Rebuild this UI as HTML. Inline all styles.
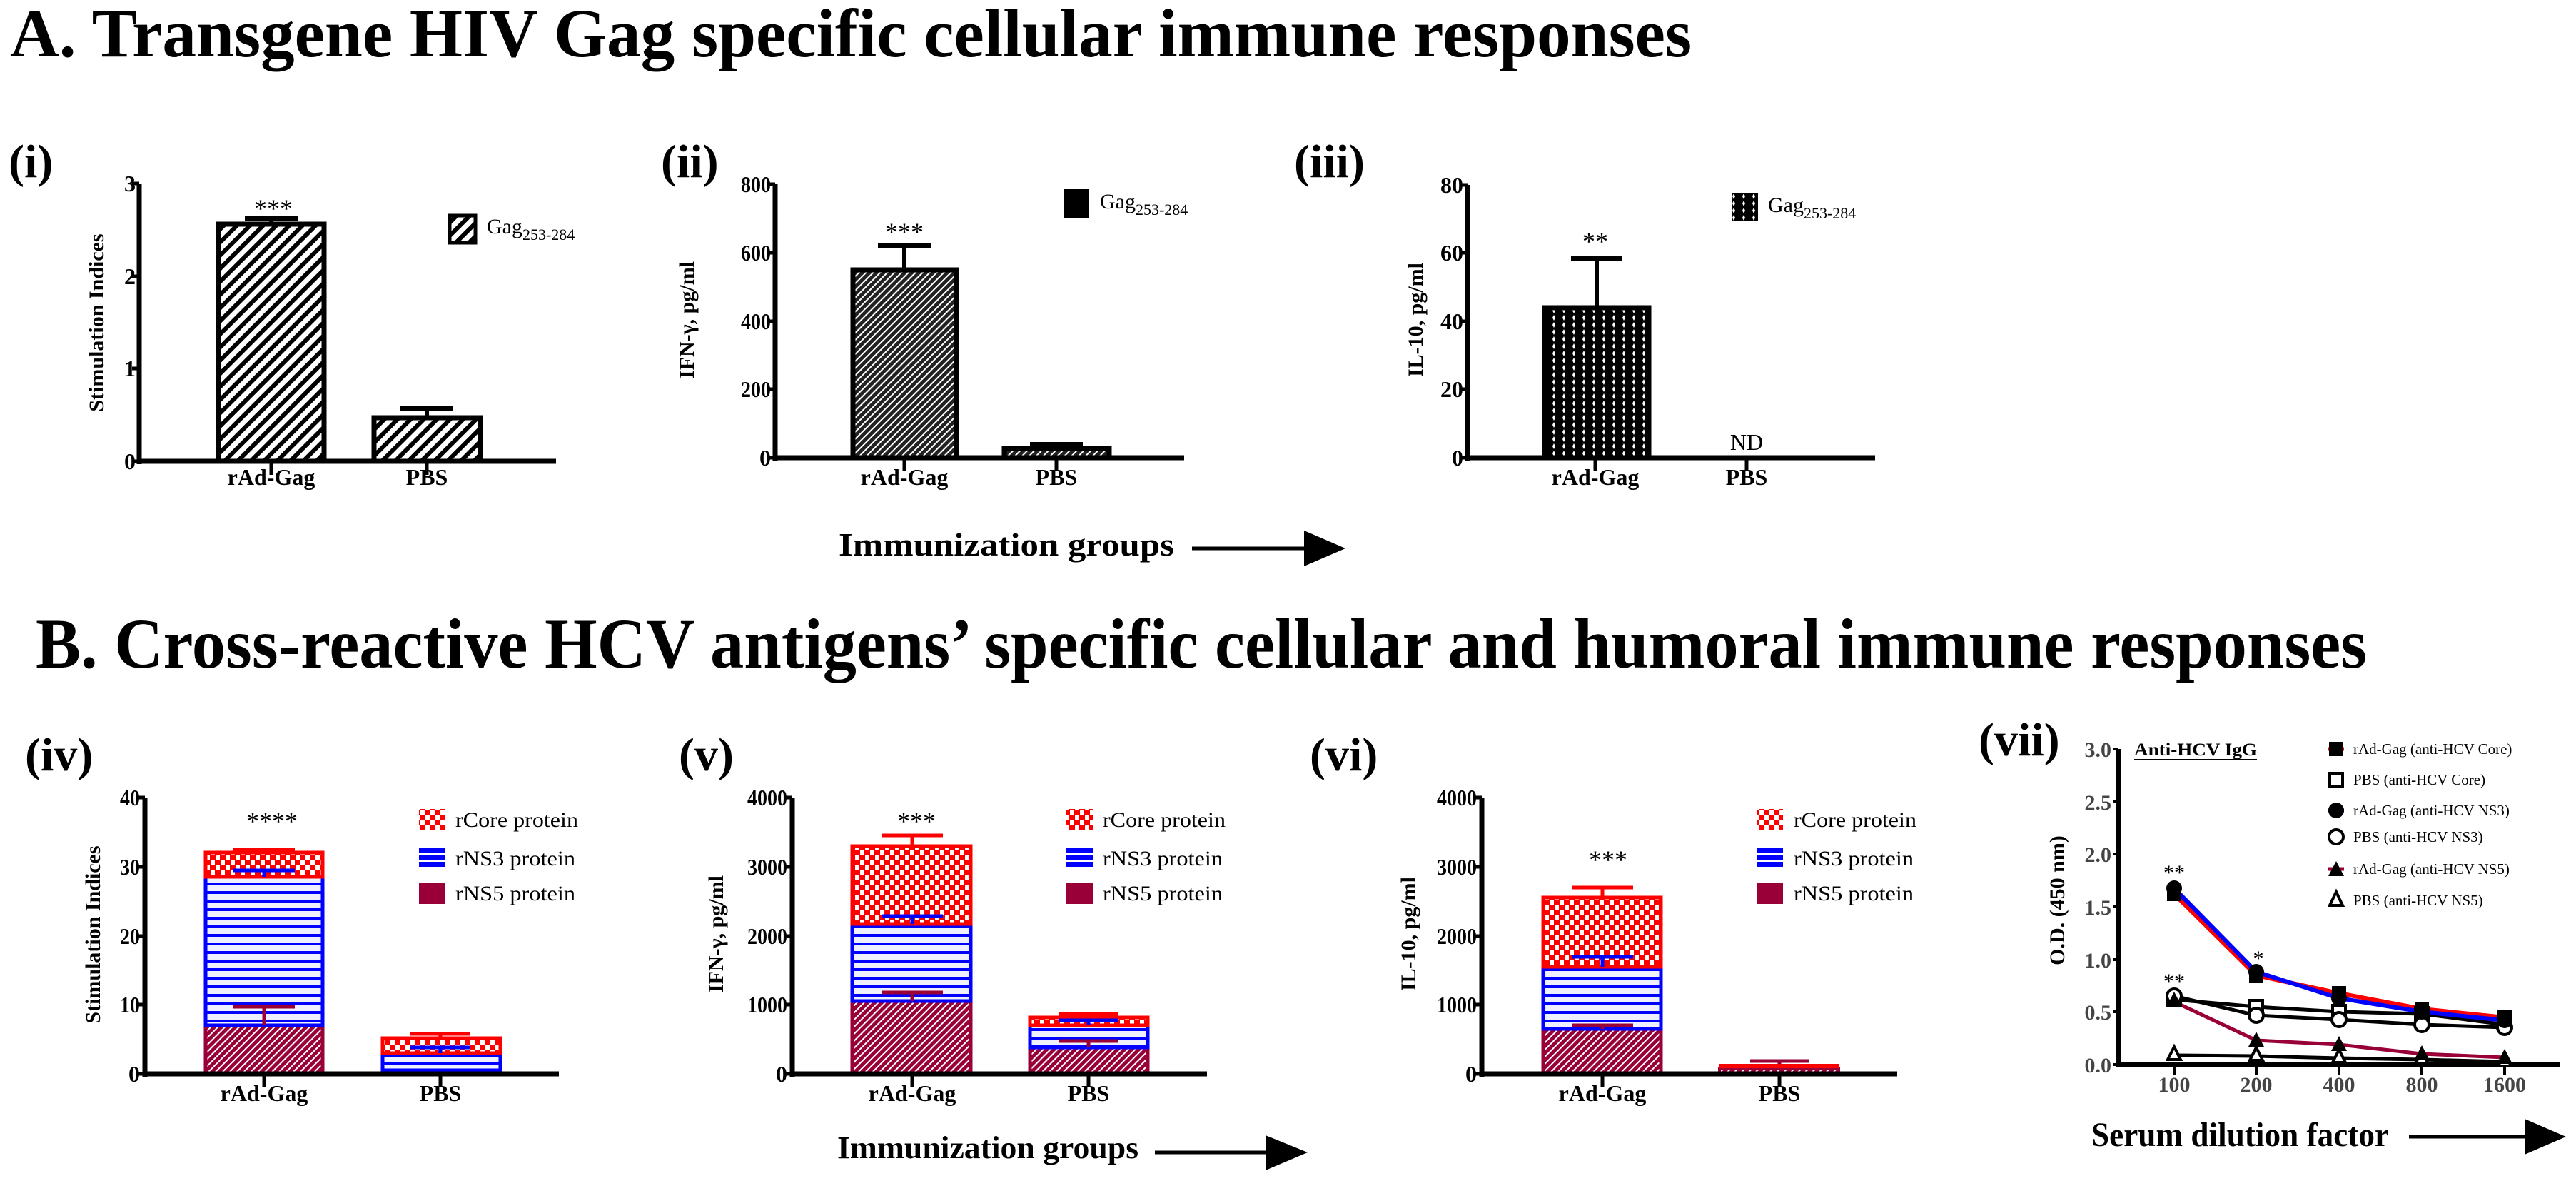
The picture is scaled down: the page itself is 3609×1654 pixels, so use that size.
<!DOCTYPE html>
<html><head><meta charset="utf-8"><style>
html,body{margin:0;padding:0;background:#fff}
svg{display:block}
text{font-family:"Liberation Serif",serif}
.b{font-weight:bold}
.tk{font-weight:bold;font-size:32px;text-anchor:end}
.xl{font-weight:bold;font-size:32px;text-anchor:middle}
.yl{font-weight:bold;font-size:30px;text-anchor:middle}
.pl{font-weight:bold;font-size:66px}
.lg{font-size:30px}
.st{font-size:36px;text-anchor:middle}
.gt{font-weight:bold;font-size:30px;fill:#444}
.l7{font-size:21px}
</style></head><body>
<svg width="3609" height="1654" viewBox="0 0 3609 1654" xmlns="http://www.w3.org/2000/svg">
<defs>
<pattern id="hw" patternUnits="userSpaceOnUse" width="13" height="13" patternTransform="rotate(45)"><rect width="13" height="13" fill="#fff"/><rect width="6" height="13" fill="#000"/></pattern>
<pattern id="hd" patternUnits="userSpaceOnUse" width="7" height="7" patternTransform="rotate(45)"><rect width="7" height="7" fill="#222"/><rect width="2" height="7" fill="#fff"/></pattern>
<pattern id="dt" patternUnits="userSpaceOnUse" width="14" height="10"><rect width="14" height="10" fill="#000"/><path d="M7 1 L9 5 L7 9 L5 5Z" fill="#fff"/></pattern>
<pattern id="co" patternUnits="userSpaceOnUse" width="14" height="14"><rect width="14" height="14" fill="#f00"/><rect x="1" y="1" width="6" height="6" fill="#fff"/><rect x="8" y="8" width="6" height="6" fill="#fff"/></pattern>
<pattern id="n3" patternUnits="userSpaceOnUse" width="12" height="12"><rect width="12" height="12" fill="#eef0ff"/><rect y="0" width="12" height="4" fill="#00f"/></pattern>
<pattern id="n3l" patternUnits="userSpaceOnUse" width="12" height="10"><rect width="12" height="10" fill="#00f"/><rect y="4" width="12" height="3" fill="#fff"/></pattern>
<pattern id="n5" patternUnits="userSpaceOnUse" width="7" height="7" patternTransform="rotate(45)"><rect width="7" height="7" fill="#990038"/><rect width="2" height="7" fill="#fff"/></pattern>
</defs>

<!-- Titles -->
<text x="14" y="79" class="b" font-size="96" textLength="2356" lengthAdjust="spacingAndGlyphs">A.  Transgene HIV Gag specific cellular immune responses</text>
<text x="50" y="935" class="b" font-size="100" textLength="3266" lengthAdjust="spacingAndGlyphs">B.  Cross-reactive HCV antigens’ specific cellular and humoral immune responses</text>

<!-- Panel labels -->
<text x="12" y="248" class="pl">(i)</text>
<text x="926" y="248" class="pl">(ii)</text>
<text x="1813" y="248" class="pl">(iii)</text>
<text x="35" y="1079" class="pl">(iv)</text>
<text x="951" y="1079" class="pl">(v)</text>
<text x="1835" y="1079" class="pl">(vi)</text>
<text x="2772" y="1058" class="pl">(vii)</text>

<!-- ===== Panel i ===== -->
<g>
<rect x="306" y="314" width="148" height="332" fill="url(#hw)" stroke="#000" stroke-width="7"/>
<rect x="524" y="585" width="149" height="61" fill="url(#hw)" stroke="#000" stroke-width="7"/>
<path d="M380 314V306M343 306H417M598 585V572M561 572H635" stroke="#000" stroke-width="6"/>
<path d="M195 257V650M192 646H779" stroke="#000" stroke-width="7"/>
<path d="M185 257H195M185 387H195M185 516H195M185 646H195M380 646V665M598 646V665" stroke="#000" stroke-width="5"/>
<text class="tk" x="190" y="268">3</text><text class="tk" x="190" y="398">2</text><text class="tk" x="190" y="527">1</text><text class="tk" x="190" y="657">0</text>
<text class="xl" x="380" y="679">rAd-Gag</text><text class="xl" x="598" y="679">PBS</text>
<text class="st" x="383" y="304">***</text>
<rect x="630" y="302" width="36" height="38" fill="url(#hw)" stroke="#000" stroke-width="5"/>
<text class="lg" x="682" y="327">Gag<tspan font-size="22" dy="9">253-284</tspan></text>
<text class="yl" transform="translate(145,452) rotate(-90)">Stimulation Indices</text>
</g>

<!-- ===== Panel ii ===== -->
<g>
<rect x="1195" y="378" width="145" height="263" fill="url(#hd)" stroke="#000" stroke-width="7"/>
<rect x="1407" y="628" width="147" height="13" fill="url(#hd)" stroke="#000" stroke-width="7"/>
<path d="M1267 378V344M1230 344H1304M1480 628V622M1443 622H1517" stroke="#000" stroke-width="6"/>
<path d="M1086 258V645M1083 641H1659" stroke="#000" stroke-width="7"/>
<path d="M1076 258H1086M1076 354H1086M1076 450H1086M1076 545H1086M1076 641H1086M1267 641V660M1480 641V660" stroke="#000" stroke-width="5"/>
<text class="tk" x="1080" y="269" textLength="42" lengthAdjust="spacingAndGlyphs">800</text><text class="tk" x="1080" y="365" textLength="42" lengthAdjust="spacingAndGlyphs">600</text><text class="tk" x="1080" y="461" textLength="42" lengthAdjust="spacingAndGlyphs">400</text><text class="tk" x="1080" y="556" textLength="42" lengthAdjust="spacingAndGlyphs">200</text><text class="tk" x="1080" y="652">0</text>
<text class="xl" x="1267" y="679">rAd-Gag</text><text class="xl" x="1480" y="679">PBS</text>
<text class="st" x="1267" y="337">***</text>
<rect x="1490" y="265" width="36" height="40" fill="#000"/>
<text class="lg" x="1541" y="292">Gag<tspan font-size="22" dy="9">253-284</tspan></text>
<text class="yl" transform="translate(972,448) rotate(-90)">IFN-γ, pg/ml</text>
</g>

<!-- ===== Panel iii ===== -->
<g>
<rect x="2164" y="431" width="146" height="210" fill="url(#dt)" stroke="#000" stroke-width="7"/>
<path d="M2237 431V362M2201 362H2273" stroke="#000" stroke-width="6"/>
<path d="M2056 259V645M2053 641H2627" stroke="#000" stroke-width="7"/>
<path d="M2046 259H2056M2046 354H2056M2046 450H2056M2046 545H2056M2046 641H2056M2235 641V660M2447 641V660" stroke="#000" stroke-width="5"/>
<text class="tk" x="2050" y="270">80</text><text class="tk" x="2050" y="365">60</text><text class="tk" x="2050" y="461">40</text><text class="tk" x="2050" y="556">20</text><text class="tk" x="2050" y="652">0</text>
<text class="xl" x="2235" y="679">rAd-Gag</text><text class="xl" x="2447" y="679">PBS</text>
<text x="2447" y="630" font-size="32" text-anchor="middle">ND</text>
<text class="st" x="2235" y="350">**</text>
<rect x="2426" y="270" width="37" height="40" fill="url(#dt)"/>
<text class="lg" x="2477" y="297">Gag<tspan font-size="22" dy="9">253-284</tspan></text>
<text class="yl" transform="translate(1993,448) rotate(-90)">IL-10, pg/ml</text>
</g>

<!-- Immunization groups A -->
<text x="1175" y="778" class="b" font-size="46" textLength="470" lengthAdjust="spacingAndGlyphs">Immunization groups</text>
<path d="M1670 768H1830" stroke="#000" stroke-width="5"/>
<path d="M1827 743L1885 768L1827 793Z" fill="#000"/>

<!-- ===== Panel iv ===== -->
<g>
<rect x="288" y="1436" width="164" height="68" fill="url(#n5)" stroke="#990038" stroke-width="5"/>
<rect x="288" y="1228" width="164" height="208" fill="url(#n3)" stroke="#00f" stroke-width="5"/>
<rect x="288" y="1194" width="164" height="34" fill="url(#co)" stroke="#f00" stroke-width="5"/>
<path d="M370 1436V1410M327 1410H413" stroke="#990038" stroke-width="5"/>
<path d="M370 1228V1219M327 1219H413" stroke="#00f" stroke-width="5"/>
<path d="M370 1194V1190M327 1190H413" stroke="#f00" stroke-width="5"/>
<rect x="536" y="1499" width="165" height="5" fill="#990038"/>
<rect x="536" y="1475" width="165" height="24" fill="url(#n3)" stroke="#00f" stroke-width="5"/>
<rect x="536" y="1454" width="165" height="21" fill="url(#co)" stroke="#f00" stroke-width="5"/>
<path d="M617 1475V1467M575 1467H659" stroke="#00f" stroke-width="5"/>
<path d="M617 1454V1448M575 1448H659" stroke="#f00" stroke-width="5"/>
<path d="M203 1117V1508M200 1504H783" stroke="#000" stroke-width="7"/>
<path d="M193 1117H203M193 1214H203M193 1311H203M193 1407H203M193 1504H203M370 1504V1523M617 1504V1523" stroke="#000" stroke-width="5"/>
<text class="tk" x="196" y="1128" textLength="28" lengthAdjust="spacingAndGlyphs">40</text><text class="tk" x="196" y="1225" textLength="28" lengthAdjust="spacingAndGlyphs">30</text><text class="tk" x="196" y="1322" textLength="28" lengthAdjust="spacingAndGlyphs">20</text><text class="tk" x="196" y="1418" textLength="28" lengthAdjust="spacingAndGlyphs">10</text><text class="tk" x="196" y="1515">0</text>
<text class="xl" x="370" y="1542">rAd-Gag</text><text class="xl" x="617" y="1542">PBS</text>
<text class="st" x="381" y="1162">****</text>
<rect x="587" y="1133" width="37" height="29" fill="url(#co)"/>
<rect x="587" y="1187" width="37" height="29" fill="url(#n3l)"/>
<rect x="587" y="1236" width="37" height="30" fill="#990038"/>
<text class="lg" x="638" y="1158" textLength="172" lengthAdjust="spacingAndGlyphs">rCore protein</text>
<text class="lg" x="638" y="1212" textLength="168" lengthAdjust="spacingAndGlyphs">rNS3 protein</text>
<text class="lg" x="638" y="1261" textLength="168" lengthAdjust="spacingAndGlyphs">rNS5 protein</text>
<text class="yl" transform="translate(140,1309) rotate(-90)">Stimulation Indices</text>
</g>

<!-- ===== Panel v ===== -->
<g>
<rect x="1194" y="1402" width="166" height="102" fill="url(#n5)" stroke="#990038" stroke-width="5"/>
<rect x="1194" y="1294" width="166" height="108" fill="url(#n3)" stroke="#00f" stroke-width="5"/>
<rect x="1194" y="1185" width="166" height="109" fill="url(#co)" stroke="#f00" stroke-width="5"/>
<path d="M1278 1402V1390M1235 1390H1321" stroke="#990038" stroke-width="5"/>
<path d="M1278 1294V1283M1235 1283H1321" stroke="#00f" stroke-width="5"/>
<path d="M1278 1185V1170M1235 1170H1321" stroke="#f00" stroke-width="5"/>
<rect x="1443" y="1467" width="165" height="37" fill="url(#n5)" stroke="#990038" stroke-width="5"/>
<rect x="1443" y="1436" width="165" height="31" fill="url(#n3)" stroke="#00f" stroke-width="5"/>
<rect x="1443" y="1425" width="165" height="11" fill="url(#co)" stroke="#f00" stroke-width="5"/>
<path d="M1525 1467V1458M1483 1458H1567" stroke="#990038" stroke-width="5"/>
<path d="M1525 1436V1429M1483 1429H1567" stroke="#00f" stroke-width="5"/>
<path d="M1525 1425V1420M1483 1420H1567" stroke="#f00" stroke-width="5"/>
<path d="M1110 1117V1508M1107 1504H1691" stroke="#000" stroke-width="7"/>
<path d="M1100 1117H1110M1100 1214H1110M1100 1311H1110M1100 1407H1110M1100 1504H1110M1278 1504V1523M1525 1504V1523" stroke="#000" stroke-width="5"/>
<text class="tk" x="1103" y="1128" textLength="56" lengthAdjust="spacingAndGlyphs">4000</text><text class="tk" x="1103" y="1225" textLength="56" lengthAdjust="spacingAndGlyphs">3000</text><text class="tk" x="1103" y="1322" textLength="56" lengthAdjust="spacingAndGlyphs">2000</text><text class="tk" x="1103" y="1418" textLength="56" lengthAdjust="spacingAndGlyphs">1000</text><text class="tk" x="1103" y="1515">0</text>
<text class="xl" x="1278" y="1542">rAd-Gag</text><text class="xl" x="1525" y="1542">PBS</text>
<text class="st" x="1284" y="1162">***</text>
<rect x="1494" y="1133" width="37" height="29" fill="url(#co)"/>
<rect x="1494" y="1187" width="37" height="29" fill="url(#n3l)"/>
<rect x="1494" y="1236" width="37" height="30" fill="#990038"/>
<text class="lg" x="1545" y="1158" textLength="172" lengthAdjust="spacingAndGlyphs">rCore protein</text>
<text class="lg" x="1545" y="1212" textLength="168" lengthAdjust="spacingAndGlyphs">rNS3 protein</text>
<text class="lg" x="1545" y="1261" textLength="168" lengthAdjust="spacingAndGlyphs">rNS5 protein</text>
<text class="yl" transform="translate(1013,1308) rotate(-90)">IFN-γ, pg/ml</text>
</g>

<!-- ===== Panel vi ===== -->
<g>
<rect x="2162" y="1441" width="165" height="63" fill="url(#n5)" stroke="#990038" stroke-width="5"/>
<rect x="2162" y="1354" width="165" height="87" fill="url(#n3)" stroke="#00f" stroke-width="5"/>
<rect x="2162" y="1257" width="165" height="97" fill="url(#co)" stroke="#f00" stroke-width="5"/>
<path d="M2245 1441V1436M2202 1436H2288" stroke="#990038" stroke-width="5"/>
<path d="M2245 1354V1340M2202 1340H2288" stroke="#00f" stroke-width="5"/>
<path d="M2245 1257V1243M2202 1243H2288" stroke="#f00" stroke-width="5"/>
<rect x="2409" y="1496" width="167" height="8" fill="url(#n5)" stroke="#990038" stroke-width="4"/>
<rect x="2409" y="1490" width="167" height="6" fill="#f00"/>
<path d="M2493 1490V1486M2452 1486H2535" stroke="#990038" stroke-width="5"/>
<path d="M2076 1117V1508M2073 1504H2658" stroke="#000" stroke-width="7"/>
<path d="M2066 1117H2076M2066 1214H2076M2066 1311H2076M2066 1407H2076M2066 1504H2076M2245 1504V1523M2493 1504V1523" stroke="#000" stroke-width="5"/>
<text class="tk" x="2069" y="1128" textLength="56" lengthAdjust="spacingAndGlyphs">4000</text><text class="tk" x="2069" y="1225" textLength="56" lengthAdjust="spacingAndGlyphs">3000</text><text class="tk" x="2069" y="1322" textLength="56" lengthAdjust="spacingAndGlyphs">2000</text><text class="tk" x="2069" y="1418" textLength="56" lengthAdjust="spacingAndGlyphs">1000</text><text class="tk" x="2069" y="1515">0</text>
<text class="xl" x="2245" y="1542">rAd-Gag</text><text class="xl" x="2493" y="1542">PBS</text>
<text class="st" x="2253" y="1216">***</text>
<rect x="2461" y="1133" width="37" height="29" fill="url(#co)"/>
<rect x="2461" y="1187" width="37" height="29" fill="url(#n3l)"/>
<rect x="2461" y="1236" width="37" height="30" fill="#990038"/>
<text class="lg" x="2513" y="1158" textLength="172" lengthAdjust="spacingAndGlyphs">rCore protein</text>
<text class="lg" x="2513" y="1212" textLength="168" lengthAdjust="spacingAndGlyphs">rNS3 protein</text>
<text class="lg" x="2513" y="1261" textLength="168" lengthAdjust="spacingAndGlyphs">rNS5 protein</text>
<text class="yl" transform="translate(1983,1308) rotate(-90)">IL-10, pg/ml</text>
</g>

<!-- Immunization groups B -->
<text x="1173" y="1622" class="b" font-size="44" textLength="422" lengthAdjust="spacingAndGlyphs">Immunization groups</text>
<path d="M1618 1614H1776" stroke="#000" stroke-width="5"/>
<path d="M1773 1590L1832 1614L1773 1639Z" fill="#000"/>

<!-- ===== Panel vii ===== -->
<g>
<path d="M2968 1049V1494M2965 1491H3587" stroke="#000" stroke-width="6"/>
<path d="M2960 1049H2968M2960 1123H2968M2960 1196H2968M2960 1270H2968M2960 1344H2968M2960 1417H2968M2960 1491H2968M3046 1491V1505M3161 1491V1505M3277 1491V1505M3393 1491V1505M3509 1491V1505" stroke="#000" stroke-width="4"/>
<g class="gt" text-anchor="end">
<text x="2958" y="1060">3.0</text><text x="2958" y="1134">2.5</text><text x="2958" y="1207">2.0</text><text x="2958" y="1281">1.5</text><text x="2958" y="1355">1.0</text><text x="2958" y="1428">0.5</text><text x="2958" y="1502">0.0</text>
</g>
<g class="gt" text-anchor="middle">
<text x="3046" y="1529">100</text><text x="3161" y="1529">200</text><text x="3277" y="1529">400</text><text x="3393" y="1529">800</text><text x="3509" y="1529">1600</text>
</g>
<!-- lines -->
<polyline points="3046,1478 3161,1479 3277,1482 3393,1484 3509,1487" fill="none" stroke="#000" stroke-width="5"/>
<polyline points="3046,1403 3161,1457 3277,1463 3393,1476 3509,1481" fill="none" stroke="#990038" stroke-width="5"/>
<polyline points="3046,1400 3161,1410 3277,1417 3393,1420 3509,1435" fill="none" stroke="#000" stroke-width="5"/>
<polyline points="3046,1395 3161,1422 3277,1428 3393,1435 3509,1439" fill="none" stroke="#000" stroke-width="5"/>
<polyline points="3046,1252 3161,1366 3277,1391 3393,1413 3509,1425" fill="none" stroke="#f00" stroke-width="6"/>
<polyline points="3046,1244 3161,1361 3277,1398 3393,1417 3509,1429" fill="none" stroke="#00f" stroke-width="6"/>
<!-- markers -->
<g fill="#fff" stroke="#000" stroke-width="4">
<path d="M3046,1466 L3055,1484 L3037,1484Z M3161,1467 L3170,1485 L3152,1485Z M3277,1470 L3286,1488 L3268,1488Z M3393,1472 L3402,1490 L3384,1490Z M3509,1475 L3518,1493 L3500,1493Z"/>
<rect x="3037" y="1391" width="18" height="18"/><rect x="3152" y="1401" width="18" height="18"/><rect x="3268" y="1408" width="18" height="18"/><rect x="3384" y="1411" width="18" height="18"/><rect x="3500" y="1426" width="18" height="18"/>
<circle cx="3046" cy="1395" r="10"/><circle cx="3161" cy="1422" r="10"/><circle cx="3277" cy="1428" r="10"/><circle cx="3393" cy="1435" r="10"/><circle cx="3509" cy="1439" r="10"/>
</g>
<g fill="#000">
<path d="M3046,1389 L3057,1410 L3035,1410Z M3161,1445 L3172,1466 L3150,1466Z M3277,1451 L3288,1472 L3266,1472Z M3393,1464 L3404,1485 L3382,1485Z M3509,1469 L3520,1490 L3498,1490Z"/>
<rect x="3036" y="1242" width="20" height="20"/><rect x="3151" y="1356" width="20" height="20"/><rect x="3267" y="1381" width="20" height="20"/><rect x="3383" y="1403" width="20" height="20"/><rect x="3499" y="1415" width="20" height="20"/>
<circle cx="3046" cy="1244" r="11"/><circle cx="3161" cy="1361" r="11"/><circle cx="3277" cy="1398" r="11"/><circle cx="3393" cy="1417" r="11"/><circle cx="3509" cy="1429" r="11"/>
</g>
<text x="3046" y="1232" font-size="30" text-anchor="middle">**</text>
<text x="3164" y="1352" font-size="30" text-anchor="middle">*</text>
<text x="3046" y="1384" font-size="30" text-anchor="middle">**</text>
<text x="2990" y="1058" class="b" font-size="25" textLength="172" lengthAdjust="spacingAndGlyphs">Anti-HCV IgG</text>
<path d="M2990 1064H3162" stroke="#000" stroke-width="2"/>
<!-- legend -->
<path d="M3262 1049H3284" stroke="#f00" stroke-width="5"/><rect x="3263" y="1039" width="20" height="20" fill="#000"/>
<rect x="3264" y="1083" width="18" height="18" fill="#fff" stroke="#000" stroke-width="4"/>
<path d="M3262 1135H3284" stroke="#00f" stroke-width="5"/><circle cx="3273" cy="1135" r="11" fill="#000"/>
<circle cx="3273" cy="1172" r="10" fill="#fff" stroke="#000" stroke-width="4"/>
<path d="M3262 1217H3284" stroke="#990038" stroke-width="5"/><path d="M3273,1206 L3284,1227 L3262,1227Z" fill="#000"/>
<path d="M3273,1249 L3282,1268 L3264,1268Z" fill="#fff" stroke="#000" stroke-width="4"/>
<g class="l7">
<text x="3297" y="1056">rAd-Gag (anti-HCV Core)</text>
<text x="3297" y="1099">PBS (anti-HCV Core)</text>
<text x="3297" y="1142">rAd-Gag (anti-HCV NS3)</text>
<text x="3297" y="1179">PBS (anti-HCV NS3)</text>
<text x="3297" y="1224">rAd-Gag (anti-HCV NS5)</text>
<text x="3297" y="1268">PBS (anti-HCV NS5)</text>
</g>
<text class="yl" font-size="30" transform="translate(2892,1261) rotate(-90)">O.D. (450 nm)</text>
<text x="2930" y="1605" class="b" font-size="48" textLength="417" lengthAdjust="spacingAndGlyphs">Serum dilution factor</text>
<path d="M3375 1592H3540" stroke="#000" stroke-width="5"/>
<path d="M3537 1567L3595 1592L3537 1617Z" fill="#000"/>
</g>
</svg>
</body></html>
